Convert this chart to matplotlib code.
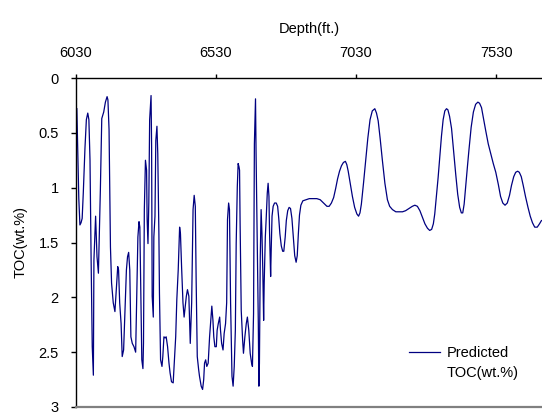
import matplotlib
matplotlib.use("Agg")
import matplotlib.pyplot as plt
from matplotlib.lines import Line2D

plt.rcParams.update({
    "font.family": ["Liberation Sans", "DejaVu Sans"],
    "font.size": 10.5,
})

LINE = "#000080"

# Depth (ft) and predicted TOC (wt.%)
depth_ft = [
    6033, 6037, 6040, 6044, 6048, 6052, 6056, 6062, 6067, 6072, 6076, 6080,
    6084, 6088, 6092, 6094, 6100, 6105, 6110, 6113, 6117, 6122, 6129, 6135,
    6141, 6144, 6148, 6153, 6157, 6163, 6169, 6174, 6179, 6182, 6186, 6191,
    6195, 6200, 6205, 6210, 6214, 6218, 6222, 6226,
    6231, 6237, 6243, 6246, 6251, 6255, 6258, 6262, 6265, 6269, 6271, 6274,
    6278, 6282, 6284, 6287, 6290, 6293, 6298, 6300, 6302, 6306, 6308, 6312,
    6315, 6319, 6322, 6326, 6328, 6332, 6337, 6340, 6344, 6348, 6352, 6357,
    6362, 6366, 6371, 6377, 6381, 6386, 6390, 6395, 6400, 6403, 6407, 6412,
    6416,
    6424, 6428, 6433, 6436, 6438, 6443, 6448, 6452, 6456, 6459, 6463, 6468,
    6471, 6477, 6482, 6486, 6489, 6493, 6497, 6502, 6507, 6512, 6515, 6519,
    6522, 6526, 6531, 6534, 6538, 6543, 6546, 6550, 6555, 6559, 6564, 6568,
    6571, 6575, 6578, 6582, 6587, 6591, 6595, 6599, 6602, 6606, 6609,
    6612, 6614, 6616, 6620, 6625, 6628, 6633, 6638, 6642, 6647, 6652, 6657,
    6660, 6664, 6667, 6671, 6673, 6677, 6681, 6683, 6685, 6688, 6691, 6694,
    6697, 6700, 6702, 6706, 6709, 6713, 6716, 6719, 6721, 6725, 6727, 6730,
    6734, 6739,
    6745, 6750, 6754, 6758, 6763, 6768, 6772, 6777, 6781, 6786, 6791, 6796,
    6801, 6806, 6811, 6816, 6820, 6824, 6828, 6833, 6840, 6851, 6863, 6875,
    6890, 6902, 6910, 6918, 6926, 6934, 6942, 6950, 6957, 6964, 6971, 6978,
    6985, 6992, 6997, 7002, 7009, 7017, 7025, 7033, 7039, 7044, 7049, 7057,
    7065, 7072, 7080, 7088, 7097, 7103, 7109, 7116, 7124, 7133, 7142, 7150,
    7160, 7172, 7184, 7196, 7207, 7219, 7231, 7240, 7249, 7258, 7267, 7276,
    7285, 7293, 7300, 7306, 7311, 7317, 7323, 7329, 7335, 7341, 7347, 7353,
    7358, 7364, 7371, 7378, 7386, 7393, 7400, 7406, 7411, 7416, 7422, 7428,
    7433, 7441, 7449, 7457, 7465, 7471, 7478, 7485, 7493, 7502, 7511, 7520,
    7529, 7538, 7546, 7554, 7562, 7570, 7578, 7585, 7593, 7600, 7607, 7613,
    7620, 7627, 7635, 7644, 7652, 7660, 7668, 7677, 7685, 7692,
]
toc_pred = [
    0.28, 0.75, 1.10, 1.34, 1.32, 1.28, 1.05, 0.64, 0.38, 0.32, 0.38, 0.75,
    1.66, 2.45, 2.71, 1.66, 1.26, 1.63, 1.78, 1.45, 1.02, 0.37, 0.31, 0.22,
    0.17, 0.20, 0.47, 1.54, 1.87, 2.05, 2.13, 1.93, 1.72, 1.75, 2.05, 2.24,
    2.54, 2.48, 2.12, 1.75, 1.63, 1.59, 1.75, 2.36,
    2.42, 2.45, 2.50, 2.12, 1.45, 1.31, 1.36, 2.08, 2.57, 2.65, 2.42, 1.20,
    0.75, 0.84, 1.29, 1.51, 1.14, 0.38, 0.16, 0.63, 1.99, 2.18, 1.45, 1.26,
    0.57, 0.44, 0.69, 1.42, 1.96, 2.57, 2.63, 2.54, 2.36, 2.37, 2.36, 2.45,
    2.60, 2.69, 2.77, 2.78, 2.60, 2.36, 2.02, 1.75, 1.36, 1.42, 1.72, 2.05,
    2.18,
    1.99, 1.93, 1.99, 2.27, 2.42, 2.05, 1.20, 1.07, 1.17, 1.84, 2.54, 2.66,
    2.72, 2.81, 2.84, 2.75, 2.60, 2.57, 2.63, 2.60, 2.36, 2.18, 2.08, 2.21,
    2.36, 2.45, 2.45, 2.30, 2.24, 2.18, 2.30, 2.42, 2.48, 2.33, 2.24, 2.05,
    1.29, 1.14, 1.20, 2.05, 2.72, 2.81, 2.63, 2.30, 1.51, 0.99, 0.78,
    0.81, 0.84, 1.33, 2.12, 2.39, 2.51, 2.36, 2.24, 2.18, 2.30, 2.51, 2.60,
    2.63, 2.15, 0.60, 0.19, 0.69, 1.45, 2.24, 2.81, 2.60, 1.63, 1.20, 1.42,
    1.75, 2.21, 1.87, 1.45, 1.29, 1.05, 0.96, 1.08, 1.39, 1.81, 1.57, 1.26,
    1.17, 1.14,
    1.14, 1.17, 1.28, 1.42, 1.53, 1.58, 1.58, 1.45, 1.30, 1.21, 1.18, 1.19,
    1.28, 1.45, 1.62, 1.68, 1.62, 1.42, 1.25, 1.16, 1.12, 1.11, 1.10, 1.10,
    1.10, 1.11, 1.13, 1.15, 1.17, 1.17, 1.14, 1.09, 1.01, 0.92, 0.85, 0.80,
    0.77, 0.76, 0.79, 0.85, 0.96, 1.08, 1.18, 1.24, 1.26, 1.23, 1.15, 0.95,
    0.74, 0.55, 0.38, 0.30, 0.28, 0.32, 0.39, 0.55, 0.75, 0.96, 1.11, 1.17,
    1.20, 1.22, 1.22, 1.22, 1.21, 1.19, 1.17, 1.16, 1.17, 1.21, 1.27, 1.33,
    1.37, 1.39, 1.38, 1.33, 1.24, 1.08, 0.91, 0.72, 0.53, 0.38, 0.30, 0.28,
    0.29, 0.35, 0.46, 0.66, 0.88, 1.06, 1.18, 1.23, 1.23, 1.15, 0.97, 0.80,
    0.66, 0.45, 0.31, 0.24, 0.22, 0.23, 0.27, 0.37, 0.48, 0.60, 0.69, 0.78,
    0.86, 0.97, 1.08, 1.14, 1.16, 1.14, 1.07, 0.98, 0.90, 0.86, 0.85, 0.86,
    0.90, 0.98, 1.08, 1.18, 1.26, 1.32, 1.36, 1.36, 1.33, 1.30,
]

x_ticks = [6030, 6530, 7030, 7530]
y_ticks = [0, 0.5, 1, 1.5, 2, 2.5, 3]
y_labels = ["0", "0.5", "1", "1.5", "2", "2.5", "3"]

fig = plt.figure(figsize=(5.42, 4.13), dpi=100)
ax = fig.add_axes([76 / 542, 6 / 413, 466 / 542, 329 / 413])

line, = ax.plot(depth_ft, toc_pred, color=LINE, linewidth=0.9)

ax.set_xlim(6030, 7694)
ax.set_ylim(3, 0)
ax.xaxis.tick_top()
ax.xaxis.set_label_position("top")
ax.set_xticks(x_ticks)
ax.set_yticks(y_ticks)
ax.set_yticklabels(y_labels)
ax.tick_params(axis="x", direction="out", length=3, width=1, pad=10)
ax.tick_params(axis="y", direction="out", length=3.5, width=1, pad=9)
ax.set_xlabel("Depth(ft.)", labelpad=9)
ax.set_ylabel("TOC(wt.%)", labelpad=8)

for side in ["top", "left"]:
    ax.spines[side].set_color("black")
    ax.spines[side].set_linewidth(1.0)
ax.spines["bottom"].set_color("#808080")
ax.spines["bottom"].set_linewidth(1.6)
ax.spines["right"].set_visible(False)

blank = Line2D([], [], linestyle="none")
ax.legend([line, blank], ["Predicted", "TOC(wt.%)"], loc="upper left",
          bbox_to_anchor=(0.715, 0.185), frameon=False, handlelength=2.1,
          handletextpad=0.45, labelspacing=0.4, borderpad=0, borderaxespad=0)

plt.savefig("out.png", dpi=100)
